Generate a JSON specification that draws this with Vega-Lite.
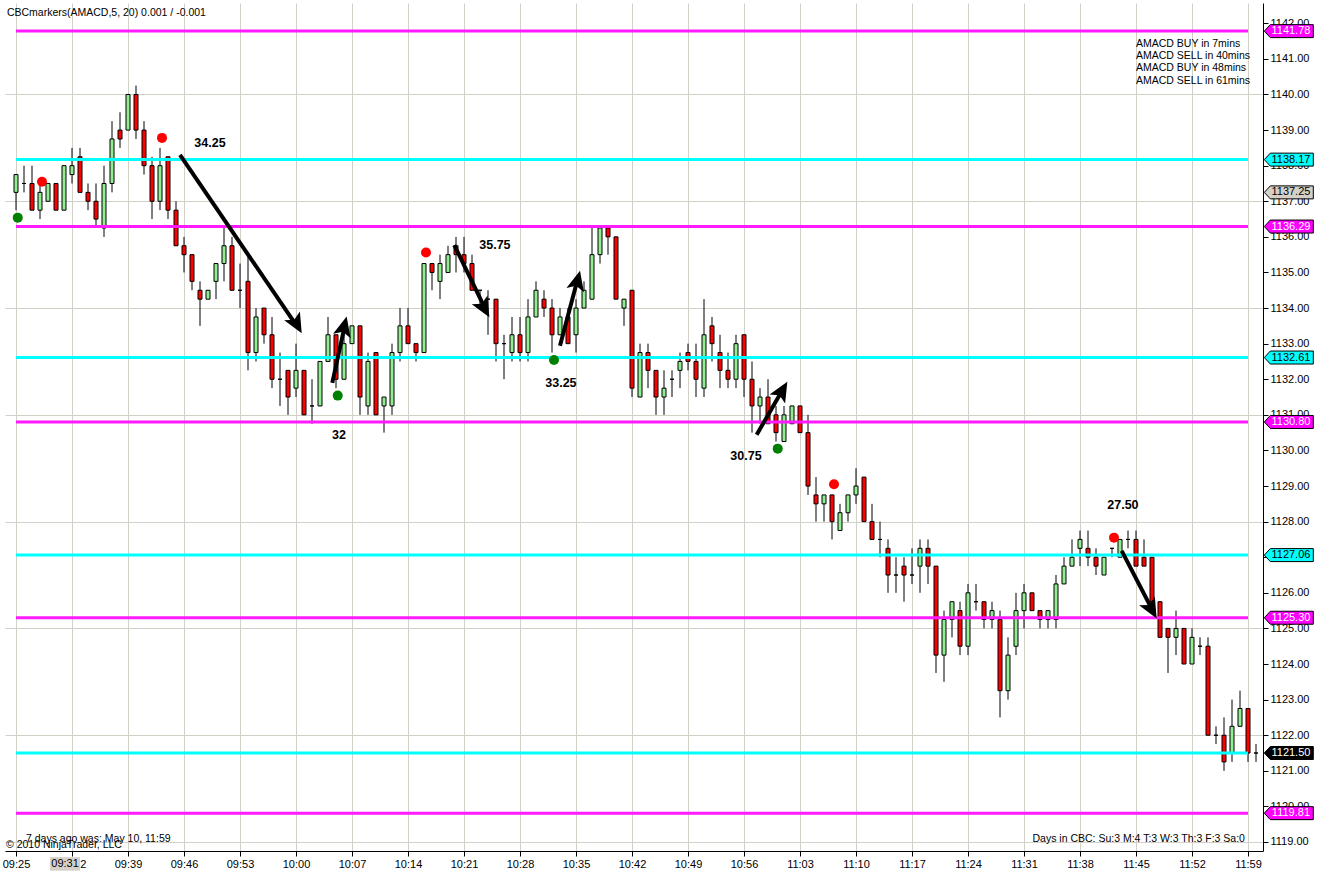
{
  "$schema": "https://vega.github.io/schema/vega-lite/v6.json",
  "width": 1258,
  "height": 848,
  "autosize": {"type": "none"},
  "padding": {"left": 5, "top": 3, "right": 62, "bottom": 26},
  "background": "white",
  "config": {
    "view": {"stroke": null},
    "font": "Liberation Sans",
    "scale": {"continuousPadding": 0},
    "axis": {
      "domainColor": "black",
      "tickColor": "black",
      "labelColor": "black",
      "labelFontSize": 11,
      "tickSize": 5,
      "labelPadding": 2,
      "gridColor": "#d3d0c8",
      "gridWidth": 1,
      "title": null,
      "labelFlush": false,
      "labelOverlap": false
    }
  },
  "layer": [
    {
      "data": {
        "format": {"parse": {"t": "date:'%H:%M'"}},
        "values": [
          {"t": "09:25", "o": 1137.25, "h": 1137.75, "l": 1136.75, "c": 1137.75},
          {"t": "09:26", "o": 1137.5, "h": 1138.0, "l": 1137.25, "c": 1137.5},
          {"t": "09:27", "o": 1137.5, "h": 1138.0, "l": 1136.75, "c": 1136.75},
          {"t": "09:28", "o": 1136.75, "h": 1137.5, "l": 1136.5, "c": 1137.25},
          {"t": "09:29", "o": 1137.0, "h": 1137.5, "l": 1137.0, "c": 1137.5},
          {"t": "09:30", "o": 1137.5, "h": 1137.5, "l": 1136.75, "c": 1136.75},
          {"t": "09:31", "o": 1136.75, "h": 1138.0, "l": 1136.75, "c": 1138.0},
          {"t": "09:32", "o": 1137.75, "h": 1138.5, "l": 1137.5, "c": 1138.0},
          {"t": "09:33", "o": 1138.25, "h": 1138.5, "l": 1137.25, "c": 1137.25},
          {"t": "09:34", "o": 1137.25, "h": 1137.5, "l": 1136.75, "c": 1137.0},
          {"t": "09:35", "o": 1137.0, "h": 1137.5, "l": 1136.25, "c": 1136.5},
          {"t": "09:36", "o": 1136.25, "h": 1138.0, "l": 1136.0, "c": 1137.5},
          {"t": "09:37", "o": 1137.5, "h": 1139.25, "l": 1137.25, "c": 1138.75},
          {"t": "09:38", "o": 1139.0, "h": 1139.5, "l": 1138.5, "c": 1138.75},
          {"t": "09:39", "o": 1139.0, "h": 1140.0, "l": 1139.0, "c": 1140.0},
          {"t": "09:40", "o": 1140.0, "h": 1140.25, "l": 1138.75, "c": 1139.0},
          {"t": "09:41", "o": 1139.0, "h": 1139.25, "l": 1137.75, "c": 1138.0},
          {"t": "09:42", "o": 1138.0, "h": 1138.25, "l": 1136.5, "c": 1137.0},
          {"t": "09:43", "o": 1137.0, "h": 1138.5, "l": 1136.75, "c": 1138.0},
          {"t": "09:44", "o": 1138.25, "h": 1138.25, "l": 1136.5, "c": 1136.75},
          {"t": "09:45", "o": 1136.75, "h": 1137.0, "l": 1135.75, "c": 1135.75},
          {"t": "09:46", "o": 1135.75, "h": 1136.0, "l": 1135.0, "c": 1135.5},
          {"t": "09:47", "o": 1135.5, "h": 1135.5, "l": 1134.5, "c": 1134.75},
          {"t": "09:48", "o": 1134.5, "h": 1134.75, "l": 1133.5, "c": 1134.25},
          {"t": "09:49", "o": 1134.25, "h": 1134.5, "l": 1134.25, "c": 1134.5},
          {"t": "09:50", "o": 1134.75, "h": 1135.25, "l": 1134.25, "c": 1135.25},
          {"t": "09:51", "o": 1135.25, "h": 1136.25, "l": 1134.75, "c": 1135.75},
          {"t": "09:52", "o": 1135.75, "h": 1136.0, "l": 1134.5, "c": 1134.5},
          {"t": "09:53", "o": 1134.5, "h": 1135.25, "l": 1134.0, "c": 1134.5},
          {"t": "09:54", "o": 1134.75, "h": 1135.5, "l": 1132.25, "c": 1132.75},
          {"t": "09:55", "o": 1132.75, "h": 1134.0, "l": 1132.5, "c": 1133.75},
          {"t": "09:56", "o": 1134.0, "h": 1134.0, "l": 1133.0, "c": 1133.25},
          {"t": "09:57", "o": 1133.25, "h": 1133.75, "l": 1131.75, "c": 1132.0},
          {"t": "09:58", "o": 1132.0, "h": 1132.75, "l": 1131.25, "c": 1132.0},
          {"t": "09:59", "o": 1132.25, "h": 1132.25, "l": 1131.0, "c": 1131.5},
          {"t": "10:00", "o": 1131.75, "h": 1133.0, "l": 1131.5, "c": 1132.25},
          {"t": "10:01", "o": 1132.25, "h": 1132.25, "l": 1131.0, "c": 1131.0},
          {"t": "10:02", "o": 1131.25, "h": 1132.0, "l": 1130.75, "c": 1131.25},
          {"t": "10:03", "o": 1131.25, "h": 1132.5, "l": 1131.25, "c": 1132.5},
          {"t": "10:04", "o": 1132.5, "h": 1133.75, "l": 1132.5, "c": 1133.25},
          {"t": "10:05", "o": 1133.25, "h": 1133.25, "l": 1131.75, "c": 1132.0},
          {"t": "10:06", "o": 1132.0, "h": 1133.5, "l": 1132.0, "c": 1133.0},
          {"t": "10:07", "o": 1133.0, "h": 1133.5, "l": 1133.0, "c": 1133.5},
          {"t": "10:08", "o": 1133.5, "h": 1133.5, "l": 1131.0, "c": 1131.5},
          {"t": "10:09", "o": 1131.25, "h": 1132.75, "l": 1131.0, "c": 1132.5},
          {"t": "10:10", "o": 1132.75, "h": 1132.75, "l": 1131.0, "c": 1131.0},
          {"t": "10:11", "o": 1131.25, "h": 1131.5, "l": 1130.5, "c": 1131.5},
          {"t": "10:12", "o": 1131.25, "h": 1133.0, "l": 1131.0, "c": 1132.75},
          {"t": "10:13", "o": 1132.75, "h": 1134.0, "l": 1132.5, "c": 1133.5},
          {"t": "10:14", "o": 1133.5, "h": 1134.0, "l": 1133.0, "c": 1133.0},
          {"t": "10:15", "o": 1133.0, "h": 1133.0, "l": 1132.5, "c": 1132.75},
          {"t": "10:16", "o": 1132.75, "h": 1135.25, "l": 1132.75, "c": 1135.25},
          {"t": "10:17", "o": 1135.25, "h": 1135.25, "l": 1134.5, "c": 1135.0},
          {"t": "10:18", "o": 1134.75, "h": 1135.5, "l": 1134.25, "c": 1135.25},
          {"t": "10:19", "o": 1135.0, "h": 1135.75, "l": 1135.0, "c": 1135.5},
          {"t": "10:20", "o": 1135.75, "h": 1136.0, "l": 1135.0, "c": 1135.5},
          {"t": "10:21", "o": 1135.5, "h": 1136.0, "l": 1135.0, "c": 1135.25},
          {"t": "10:22", "o": 1135.25, "h": 1135.5, "l": 1134.5, "c": 1134.5},
          {"t": "10:23", "o": 1134.5, "h": 1134.5, "l": 1134.0, "c": 1134.5},
          {"t": "10:24", "o": 1134.25, "h": 1134.5, "l": 1133.25, "c": 1134.25},
          {"t": "10:25", "o": 1134.25, "h": 1134.25, "l": 1132.5, "c": 1133.0},
          {"t": "10:26", "o": 1133.0, "h": 1133.25, "l": 1132.0, "c": 1133.0},
          {"t": "10:27", "o": 1132.75, "h": 1133.75, "l": 1132.5, "c": 1133.25},
          {"t": "10:28", "o": 1133.25, "h": 1133.75, "l": 1132.5, "c": 1132.75},
          {"t": "10:29", "o": 1132.75, "h": 1134.25, "l": 1132.5, "c": 1133.75},
          {"t": "10:30", "o": 1133.75, "h": 1134.75, "l": 1133.75, "c": 1134.5},
          {"t": "10:31", "o": 1134.25, "h": 1134.5, "l": 1133.75, "c": 1134.0},
          {"t": "10:32", "o": 1134.0, "h": 1134.25, "l": 1132.75, "c": 1133.25},
          {"t": "10:33", "o": 1133.25, "h": 1134.0, "l": 1133.25, "c": 1133.75},
          {"t": "10:34", "o": 1133.75, "h": 1134.0, "l": 1133.0, "c": 1133.0},
          {"t": "10:35", "o": 1133.25, "h": 1134.25, "l": 1132.75, "c": 1134.0},
          {"t": "10:36", "o": 1134.0, "h": 1134.75, "l": 1134.0, "c": 1134.5},
          {"t": "10:37", "o": 1134.25, "h": 1136.25, "l": 1134.25, "c": 1135.5},
          {"t": "10:38", "o": 1135.5, "h": 1136.25, "l": 1135.25, "c": 1136.25},
          {"t": "10:39", "o": 1136.25, "h": 1136.25, "l": 1135.5, "c": 1136.0},
          {"t": "10:40", "o": 1136.0, "h": 1136.0, "l": 1134.25, "c": 1134.25},
          {"t": "10:41", "o": 1134.0, "h": 1134.25, "l": 1133.5, "c": 1134.25},
          {"t": "10:42", "o": 1134.5, "h": 1134.5, "l": 1131.5, "c": 1131.75},
          {"t": "10:43", "o": 1131.5, "h": 1133.0, "l": 1131.5, "c": 1132.75},
          {"t": "10:44", "o": 1132.75, "h": 1133.0, "l": 1131.75, "c": 1132.25},
          {"t": "10:45", "o": 1132.25, "h": 1132.25, "l": 1131.0, "c": 1131.5},
          {"t": "10:46", "o": 1131.5, "h": 1132.25, "l": 1131.0, "c": 1131.75},
          {"t": "10:47", "o": 1132.0, "h": 1132.25, "l": 1131.5, "c": 1132.0},
          {"t": "10:48", "o": 1132.25, "h": 1132.75, "l": 1131.75, "c": 1132.5},
          {"t": "10:49", "o": 1132.75, "h": 1133.0, "l": 1132.25, "c": 1132.5},
          {"t": "10:50", "o": 1132.5, "h": 1133.0, "l": 1131.5, "c": 1132.0},
          {"t": "10:51", "o": 1131.75, "h": 1134.25, "l": 1131.5, "c": 1133.25},
          {"t": "10:52", "o": 1133.5, "h": 1133.75, "l": 1132.5, "c": 1133.0},
          {"t": "10:53", "o": 1132.75, "h": 1133.25, "l": 1131.75, "c": 1132.25},
          {"t": "10:54", "o": 1132.25, "h": 1132.75, "l": 1131.75, "c": 1132.0},
          {"t": "10:55", "o": 1132.0, "h": 1133.25, "l": 1131.75, "c": 1133.0},
          {"t": "10:56", "o": 1133.25, "h": 1133.25, "l": 1131.5, "c": 1132.0},
          {"t": "10:57", "o": 1132.0, "h": 1132.5, "l": 1130.5, "c": 1131.25},
          {"t": "10:58", "o": 1131.25, "h": 1131.75, "l": 1130.75, "c": 1131.5},
          {"t": "10:59", "o": 1131.5, "h": 1132.0, "l": 1130.75, "c": 1130.75},
          {"t": "11:00", "o": 1131.0, "h": 1131.25, "l": 1130.25, "c": 1130.5},
          {"t": "11:01", "o": 1130.25, "h": 1131.25, "l": 1130.25, "c": 1131.0},
          {"t": "11:02", "o": 1130.75, "h": 1131.25, "l": 1130.75, "c": 1131.25},
          {"t": "11:03", "o": 1131.25, "h": 1131.25, "l": 1130.5, "c": 1130.5},
          {"t": "11:04", "o": 1130.5, "h": 1131.0, "l": 1128.75, "c": 1129.0},
          {"t": "11:05", "o": 1128.75, "h": 1129.25, "l": 1128.0, "c": 1128.5},
          {"t": "11:06", "o": 1128.5, "h": 1128.75, "l": 1128.0, "c": 1128.75},
          {"t": "11:07", "o": 1128.75, "h": 1128.75, "l": 1127.5, "c": 1128.0},
          {"t": "11:08", "o": 1127.75, "h": 1128.5, "l": 1127.75, "c": 1128.25},
          {"t": "11:09", "o": 1128.25, "h": 1128.75, "l": 1128.0, "c": 1128.75},
          {"t": "11:10", "o": 1128.75, "h": 1129.5, "l": 1128.5, "c": 1129.0},
          {"t": "11:11", "o": 1129.25, "h": 1129.25, "l": 1128.0, "c": 1128.0},
          {"t": "11:12", "o": 1128.0, "h": 1128.5, "l": 1127.5, "c": 1127.5},
          {"t": "11:13", "o": 1127.5, "h": 1128.0, "l": 1127.0, "c": 1127.5},
          {"t": "11:14", "o": 1127.25, "h": 1127.5, "l": 1126.0, "c": 1126.5},
          {"t": "11:15", "o": 1126.5, "h": 1127.0, "l": 1126.0, "c": 1126.5},
          {"t": "11:16", "o": 1126.75, "h": 1127.0, "l": 1125.75, "c": 1126.5},
          {"t": "11:17", "o": 1126.5, "h": 1127.25, "l": 1126.25, "c": 1126.5},
          {"t": "11:18", "o": 1126.75, "h": 1127.5, "l": 1126.0, "c": 1127.25},
          {"t": "11:19", "o": 1127.25, "h": 1127.5, "l": 1126.25, "c": 1126.75},
          {"t": "11:20", "o": 1126.75, "h": 1126.75, "l": 1123.75, "c": 1124.25},
          {"t": "11:21", "o": 1124.25, "h": 1125.5, "l": 1123.5, "c": 1125.25},
          {"t": "11:22", "o": 1125.25, "h": 1125.75, "l": 1124.75, "c": 1125.75},
          {"t": "11:23", "o": 1125.5, "h": 1125.75, "l": 1124.25, "c": 1124.5},
          {"t": "11:24", "o": 1124.5, "h": 1126.25, "l": 1124.25, "c": 1126.0},
          {"t": "11:25", "o": 1125.75, "h": 1126.25, "l": 1125.5, "c": 1125.75},
          {"t": "11:26", "o": 1125.75, "h": 1125.75, "l": 1125.0, "c": 1125.25},
          {"t": "11:27", "o": 1125.25, "h": 1125.75, "l": 1125.0, "c": 1125.5},
          {"t": "11:28", "o": 1125.25, "h": 1125.5, "l": 1122.5, "c": 1123.25},
          {"t": "11:29", "o": 1123.25, "h": 1124.75, "l": 1123.0, "c": 1124.25},
          {"t": "11:30", "o": 1124.5, "h": 1126.0, "l": 1124.25, "c": 1125.5},
          {"t": "11:31", "o": 1125.5, "h": 1126.25, "l": 1125.0, "c": 1126.0},
          {"t": "11:32", "o": 1126.0, "h": 1126.0, "l": 1125.5, "c": 1125.5},
          {"t": "11:33", "o": 1125.5, "h": 1125.5, "l": 1125.0, "c": 1125.25},
          {"t": "11:34", "o": 1125.25, "h": 1125.5, "l": 1125.0, "c": 1125.5},
          {"t": "11:35", "o": 1125.25, "h": 1126.5, "l": 1125.0, "c": 1126.25},
          {"t": "11:36", "o": 1126.25, "h": 1127.0, "l": 1126.25, "c": 1126.75},
          {"t": "11:37", "o": 1126.75, "h": 1127.5, "l": 1126.75, "c": 1127.0},
          {"t": "11:38", "o": 1127.25, "h": 1127.75, "l": 1126.75, "c": 1127.5},
          {"t": "11:39", "o": 1127.25, "h": 1127.75, "l": 1126.75, "c": 1127.0},
          {"t": "11:40", "o": 1127.0, "h": 1127.25, "l": 1126.5, "c": 1126.75},
          {"t": "11:41", "o": 1126.5, "h": 1127.0, "l": 1126.5, "c": 1127.0},
          {"t": "11:42", "o": 1127.25, "h": 1127.25, "l": 1127.0, "c": 1127.25},
          {"t": "11:43", "o": 1127.0, "h": 1127.5, "l": 1127.0, "c": 1127.5},
          {"t": "11:44", "o": 1127.5, "h": 1127.75, "l": 1127.25, "c": 1127.5},
          {"t": "11:45", "o": 1127.5, "h": 1127.75, "l": 1126.75, "c": 1126.75},
          {"t": "11:46", "o": 1127.0, "h": 1127.5, "l": 1126.75, "c": 1126.75},
          {"t": "11:47", "o": 1127.0, "h": 1127.0, "l": 1125.75, "c": 1125.75},
          {"t": "11:48", "o": 1125.75, "h": 1125.75, "l": 1124.75, "c": 1124.75},
          {"t": "11:49", "o": 1125.0, "h": 1125.0, "l": 1123.75, "c": 1124.75},
          {"t": "11:50", "o": 1124.75, "h": 1125.5, "l": 1124.25, "c": 1125.0},
          {"t": "11:51", "o": 1125.0, "h": 1125.0, "l": 1124.0, "c": 1124.0},
          {"t": "11:52", "o": 1124.0, "h": 1125.0, "l": 1124.0, "c": 1124.75},
          {"t": "11:53", "o": 1124.5, "h": 1124.75, "l": 1124.25, "c": 1124.5},
          {"t": "11:54", "o": 1124.5, "h": 1124.75, "l": 1122.0, "c": 1122.0},
          {"t": "11:55", "o": 1122.0, "h": 1122.25, "l": 1121.75, "c": 1122.0},
          {"t": "11:56", "o": 1122.0, "h": 1122.5, "l": 1121.0, "c": 1121.25},
          {"t": "11:57", "o": 1121.5, "h": 1123.0, "l": 1121.25, "c": 1122.25},
          {"t": "11:58", "o": 1122.25, "h": 1123.25, "l": 1122.25, "c": 1122.75},
          {"t": "11:59", "o": 1122.75, "h": 1122.75, "l": 1121.25, "c": 1121.5},
          {"t": "12:00", "o": 1121.5, "h": 1121.75, "l": 1121.25, "c": 1121.5}
        ]
      },
      "layer": [
        {
          "mark": {"type": "rule", "color": "black", "strokeWidth": 1},
          "encoding": {
            "x": {
              "field": "t",
              "type": "temporal",
              "scale": {
                "domain": [
                  {"year": 1900, "month": 1, "date": 1, "hours": 9, "minutes": 23, "seconds": 37, "milliseconds": 500},
                  {"year": 1900, "month": 1, "date": 1, "hours": 12, "minutes": 0, "seconds": 52, "milliseconds": 500}
                ],
                "nice": false,
                "padding": 0
              },
              "axis": {
                "format": "%H:%M",
                "grid": true,
                "labelOverlap": false,
                "tickCount": 40,
                "values": [
                  {"year": 1900, "month": 1, "date": 1, "hours": 9, "minutes": 25},
                  {"year": 1900, "month": 1, "date": 1, "hours": 9, "minutes": 32},
                  {"year": 1900, "month": 1, "date": 1, "hours": 9, "minutes": 39},
                  {"year": 1900, "month": 1, "date": 1, "hours": 9, "minutes": 46},
                  {"year": 1900, "month": 1, "date": 1, "hours": 9, "minutes": 53},
                  {"year": 1900, "month": 1, "date": 1, "hours": 10, "minutes": 0},
                  {"year": 1900, "month": 1, "date": 1, "hours": 10, "minutes": 7},
                  {"year": 1900, "month": 1, "date": 1, "hours": 10, "minutes": 14},
                  {"year": 1900, "month": 1, "date": 1, "hours": 10, "minutes": 21},
                  {"year": 1900, "month": 1, "date": 1, "hours": 10, "minutes": 28},
                  {"year": 1900, "month": 1, "date": 1, "hours": 10, "minutes": 35},
                  {"year": 1900, "month": 1, "date": 1, "hours": 10, "minutes": 42},
                  {"year": 1900, "month": 1, "date": 1, "hours": 10, "minutes": 49},
                  {"year": 1900, "month": 1, "date": 1, "hours": 10, "minutes": 56},
                  {"year": 1900, "month": 1, "date": 1, "hours": 11, "minutes": 3},
                  {"year": 1900, "month": 1, "date": 1, "hours": 11, "minutes": 10},
                  {"year": 1900, "month": 1, "date": 1, "hours": 11, "minutes": 17},
                  {"year": 1900, "month": 1, "date": 1, "hours": 11, "minutes": 24},
                  {"year": 1900, "month": 1, "date": 1, "hours": 11, "minutes": 31},
                  {"year": 1900, "month": 1, "date": 1, "hours": 11, "minutes": 38},
                  {"year": 1900, "month": 1, "date": 1, "hours": 11, "minutes": 45},
                  {"year": 1900, "month": 1, "date": 1, "hours": 11, "minutes": 52},
                  {"year": 1900, "month": 1, "date": 1, "hours": 11, "minutes": 59}
                ]
              }
            },
            "y": {
              "field": "l",
              "type": "quantitative",
              "scale": {"domain": [1118.747, 1142.57], "zero": false, "nice": false, "padding": 0},
              "axis": {
                "orient": "right",
                "format": ".2f",
                "grid": true,
                "labelOverlap": false,
                "tickCount": 40,
                "gridOpacity": {"condition": {"test": "datum.value % 3 === 0", "value": 1}, "value": 0},
                "values": [1119, 1120, 1121, 1122, 1123, 1124, 1125, 1126, 1127, 1128, 1129, 1130, 1131, 1132, 1133, 1134, 1135, 1136, 1137, 1138, 1139, 1140, 1141, 1142]
              }
            },
            "y2": {"field": "h"}
          }
        },
        {
          "mark": {"type": "bar", "size": 4, "stroke": "black", "strokeWidth": 1},
          "encoding": {
            "x": {"field": "t", "type": "temporal"},
            "y": {"field": "o", "type": "quantitative"},
            "y2": {"field": "c"},
            "fill": {"condition": {"test": "datum.c > datum.o", "value": "#90ee90"}, "value": "#ff0000"}
          }
        }
      ]
    },
    {
      "data": {
        "values": [
          {"p": 1141.78, "kind": "magenta"},
          {"p": 1138.17, "kind": "cyan"},
          {"p": 1136.29, "kind": "magenta"},
          {"p": 1132.61, "kind": "cyan"},
          {"p": 1130.80, "kind": "magenta"},
          {"p": 1127.06, "kind": "cyan"},
          {"p": 1125.30, "kind": "magenta"},
          {"p": 1121.50, "kind": "cyan"},
          {"p": 1119.81, "kind": "magenta"}
        ]
      },
      "mark": {"type": "rule", "strokeWidth": 3},
      "encoding": {
        "x": {"datum": {"year": 1900, "month": 1, "date": 1, "hours": 9, "minutes": 25}, "type": "temporal"},
        "x2": {"datum": {"year": 1900, "month": 1, "date": 1, "hours": 11, "minutes": 59}},
        "y": {"field": "p", "type": "quantitative"},
        "stroke": {"condition": {"test": "datum.kind === 'magenta'", "value": "#ff1aff"}, "value": "#00ffff"}
      }
    },
    {
      "mark": {"type": "rule", "color": "black", "strokeWidth": 1},
      "encoding": {
        "y": {"datum": 1137.25, "type": "quantitative"}
      }
    },
    {
      "mark": {"type": "rule", "color": "black", "strokeWidth": 1},
      "encoding": {
        "x": {"datum": {"year": 1900, "month": 1, "date": 1, "hours": 9, "minutes": 31, "seconds": 8}, "type": "temporal"}
      }
    },
    {
      "data": {
        "format": {"parse": {"t": "date:'%H:%M:%S'"}},
        "values": [
          {"t": "09:25:13", "p": 1136.54, "sig": "buy"},
          {"t": "09:28:15", "p": 1137.55, "sig": "sell"},
          {"t": "09:43:15", "p": 1138.78, "sig": "sell"},
          {"t": "10:05:13", "p": 1131.54, "sig": "buy"},
          {"t": "10:16:15", "p": 1135.56, "sig": "sell"},
          {"t": "10:32:15", "p": 1132.54, "sig": "buy"},
          {"t": "11:00:13", "p": 1130.05, "sig": "buy"},
          {"t": "11:07:15", "p": 1129.05, "sig": "sell"},
          {"t": "11:42:15", "p": 1127.55, "sig": "sell"}
        ]
      },
      "mark": {"type": "circle", "size": 100, "opacity": 1},
      "encoding": {
        "x": {"field": "t", "type": "temporal"},
        "y": {"field": "p", "type": "quantitative"},
        "fill": {"condition": {"test": "datum.sig === 'buy'", "value": "#008000"}, "value": "#ff0000"}
      }
    },
    {
      "data": {
        "format": {"parse": {"t1": "date:'%H:%M:%S'", "t2": "date:'%H:%M:%S'", "t3": "date:'%H:%M:%S'"}},
        "values": [
          {"id": 1, "dir": "down", "t1": "09:45:30", "p1": 1138.30, "t2": "10:00:09", "p2": 1133.48, "t3": "10:00:43", "p3": 1133.29},
          {"id": 2, "dir": "up", "t1": "10:04:32", "p1": 1131.90, "t2": "10:06:08", "p2": 1133.54, "t3": "10:06:20", "p3": 1133.76},
          {"id": 3, "dir": "down", "t1": "10:19:47", "p1": 1135.77, "t2": "10:23:44", "p2": 1133.94, "t3": "10:24:10", "p3": 1133.74},
          {"id": 4, "dir": "up", "t1": "10:33:00", "p1": 1132.94, "t2": "10:35:14", "p2": 1134.84, "t3": "10:35:30", "p3": 1135.05},
          {"id": 5, "dir": "up", "t1": "10:57:35", "p1": 1130.44, "t2": "11:00:55", "p2": 1131.74, "t3": "11:01:25", "p3": 1131.93},
          {"id": 6, "dir": "down", "t1": "11:43:13", "p1": 1127.18, "t2": "11:47:08", "p2": 1125.48, "t3": "11:47:35", "p3": 1125.28}
        ]
      },
      "layer": [
        {
          "mark": {"type": "rule", "color": "black", "strokeWidth": 4},
          "encoding": {
            "x": {"field": "t1", "type": "temporal"},
            "y": {"field": "p1", "type": "quantitative"},
            "x2": {"field": "t2"},
            "y2": {"field": "p2"}
          }
        },
        {
          "transform": [{"filter": "datum.dir === 'down'"}],
          "mark": {"type": "point", "shape": "M0,0 L0.9,2 L0,1.55 L-0.9,2 Z", "size": 400, "filled": true, "color": "black", "opacity": 1, "angle": 151},
          "encoding": {
            "x": {"field": "t3", "type": "temporal"},
            "y": {"field": "p3", "type": "quantitative"}
          }
        },
        {
          "transform": [{"filter": "datum.dir === 'up' && datum.id !== 5"}],
          "mark": {"type": "point", "shape": "M0,0 L0.9,2 L0,1.55 L-0.9,2 Z", "size": 400, "filled": true, "color": "black", "opacity": 1, "angle": 14},
          "encoding": {
            "x": {"field": "t3", "type": "temporal"},
            "y": {"field": "p3", "type": "quantitative"}
          }
        },
        {
          "transform": [{"filter": "datum.id === 5"}],
          "mark": {"type": "point", "shape": "M0,0 L0.9,2 L0,1.55 L-0.9,2 Z", "size": 400, "filled": true, "color": "black", "opacity": 1, "angle": 30},
          "encoding": {
            "x": {"field": "t3", "type": "temporal"},
            "y": {"field": "p3", "type": "quantitative"}
          }
        }
      ]
    },
    {
      "data": {
        "format": {"parse": {"t": "date:'%H:%M:%S'"}},
        "values": [
          {"t": "09:49:15", "p": 1138.64, "text": "34.25"},
          {"t": "10:24:52", "p": 1135.77, "text": "35.75"},
          {"t": "10:05:22", "p": 1130.44, "text": "32"},
          {"t": "10:33:07", "p": 1131.90, "text": "33.25"},
          {"t": "10:56:15", "p": 1129.85, "text": "30.75"},
          {"t": "11:43:22", "p": 1128.47, "text": "27.50"}
        ]
      },
      "mark": {"type": "text", "fontWeight": "bold", "fontSize": 12.5, "color": "black", "align": "center", "baseline": "middle"},
      "encoding": {
        "x": {"field": "t", "type": "temporal"},
        "y": {"field": "p", "type": "quantitative"},
        "text": {"field": "text"}
      }
    },
    {
      "data": {
        "format": {"parse": {"t": "date:'%H:%M:%S'"}},
        "values": [
          {"t": "09:23:52", "p": 1142.30, "text": "CBCmarkers(AMACD,5, 20) 0.001 / -0.001"},
          {"t": "11:45:00", "p": 1141.42, "text": "AMACD BUY in 7mins"},
          {"t": "11:45:00", "p": 1141.08, "text": "AMACD SELL in 40mins"},
          {"t": "11:45:00", "p": 1140.74, "text": "AMACD BUY in 48mins"},
          {"t": "11:45:00", "p": 1140.38, "text": "AMACD SELL in 61mins"},
          {"t": "09:26:15", "p": 1119.08, "text": "7 days ago was: May 10, 11:59"},
          {"t": "09:23:45", "p": 1118.91, "text": "© 2010 NinjaTrader, LLC"}
        ]
      },
      "mark": {"type": "text", "fontSize": 10.5, "color": "black", "align": "left", "baseline": "middle"},
      "encoding": {
        "x": {"field": "t", "type": "temporal"},
        "y": {"field": "p", "type": "quantitative"},
        "text": {"field": "text"}
      }
    },
    {
      "data": {
        "format": {"parse": {"t": "date:'%H:%M:%S'"}},
        "values": [
          {"t": "11:58:37", "p": 1119.08, "text": "Days in CBC: Su:3 M:4 T:3 W:3 Th:3 F:3 Sa:0"}
        ]
      },
      "mark": {"type": "text", "fontSize": 10.5, "color": "black", "align": "right", "baseline": "middle"},
      "encoding": {
        "x": {"field": "t", "type": "temporal"},
        "y": {"field": "p", "type": "quantitative"},
        "text": {"field": "text"}
      }
    },
    {
      "data": {
        "values": [
          {"p": 1141.78, "kind": "magenta"},
          {"p": 1138.17, "kind": "cyan"},
          {"p": 1137.25, "kind": "price"},
          {"p": 1136.29, "kind": "magenta"},
          {"p": 1132.61, "kind": "cyan"},
          {"p": 1130.80, "kind": "magenta"},
          {"p": 1127.06, "kind": "cyan"},
          {"p": 1125.30, "kind": "magenta"},
          {"p": 1121.50, "kind": "last"},
          {"p": 1119.81, "kind": "magenta"}
        ]
      },
      "layer": [
        {
          "mark": {"type": "point", "shape": "M-1,0 L-0.755,-0.265 L1,-0.265 L1,0.265 L-0.755,0.265 Z", "size": 2401, "filled": true, "opacity": 1, "stroke": "black", "strokeWidth": 1},
          "encoding": {
            "x": {"datum": {"year": 1900, "month": 1, "date": 1, "hours": 12, "minutes": 4, "seconds": 6}, "type": "temporal"},
            "y": {"field": "p", "type": "quantitative"},
            "fill": {
              "field": "kind",
              "type": "nominal",
              "scale": {"domain": ["magenta", "cyan", "price", "last"], "range": ["#ff00ff", "#00ffff", "#d4d0c8", "#000000"]},
              "legend": null
            }
          }
        },
        {
          "mark": {"type": "text", "fontSize": 11, "align": "center", "baseline": "middle"},
          "encoding": {
            "x": {"datum": {"year": 1900, "month": 1, "date": 1, "hours": 12, "minutes": 4, "seconds": 22}, "type": "temporal"},
            "y": {"field": "p", "type": "quantitative"},
            "text": {"field": "p", "type": "quantitative", "format": ".2f"},
            "color": {"condition": {"test": "datum.kind === 'magenta' || datum.kind === 'last'", "value": "white"}, "value": "black"}
          }
        }
      ]
    },
    {
      "data": {"values": [{"label": "09:31"}]},
      "layer": [
        {
          "mark": {"type": "point", "shape": "M-1,-0.45 L1,-0.45 L1,0.45 L-1,0.45 Z", "size": 900, "filled": true, "opacity": 1, "color": "#d4d0c8"},
          "encoding": {
            "x": {"datum": {"year": 1900, "month": 1, "date": 1, "hours": 9, "minutes": 31, "seconds": 8}, "type": "temporal"},
            "y": {"datum": 1118.385, "type": "quantitative"}
          }
        },
        {
          "mark": {"type": "text", "fontSize": 11, "color": "black", "align": "center", "baseline": "middle"},
          "encoding": {
            "x": {"datum": {"year": 1900, "month": 1, "date": 1, "hours": 9, "minutes": 31, "seconds": 8}, "type": "temporal"},
            "y": {"datum": 1118.385, "type": "quantitative"},
            "text": {"field": "label"}
          }
        }
      ]
    }
  ]
}
